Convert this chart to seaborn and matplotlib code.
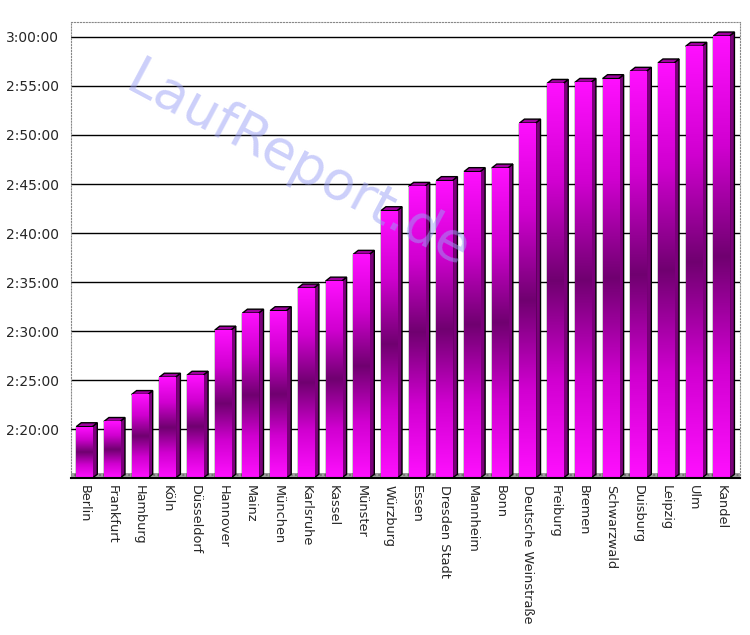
import numpy as np
import seaborn as sns
import matplotlib.pyplot as plt
from matplotlib.patches import Polygon
from matplotlib.colors import LinearSegmentedColormap
from matplotlib.ticker import FuncFormatter, MultipleLocator

# marathon times per city (h:mm:ss)
cities = ['Berlin', 'Frankfurt', 'Hamburg', 'Köln', 'Düsseldorf', 'Hannover',
          'Mainz', 'München', 'Karlsruhe', 'Kassel', 'Münster', 'Würzburg',
          'Essen', 'Dresden Stadt', 'Mannheim', 'Bonn', 'Deutsche Weinstraße',
          'Freiburg', 'Bremen', 'Schwarzwald', 'Duisburg', 'Leipzig', 'Ulm',
          'Kandel']
times = ['2:20:15', '2:20:47', '2:23:32', '2:25:18', '2:25:30', '2:30:06',
         '2:31:50', '2:32:05', '2:34:24', '2:35:06', '2:37:50', '2:42:17',
         '2:44:46', '2:45:21', '2:46:16', '2:46:38', '2:51:13', '2:55:16',
         '2:55:22', '2:55:45', '2:56:30', '2:57:21', '2:59:03', '3:00:06']


def to_sec(s):
    h, m, sec = s.split(':')
    return int(h) * 3600 + int(m) * 60 + int(sec)


secs = [to_sec(t) for t in times]
ymin, ymax = 8100, 10890
xlo, xhi = -0.47, 23.68

sns.set_style('white')
plt.rcParams['font.family'] = ['DejaVu Sans']

fig = plt.figure(figsize=(7.5, 6.35), dpi=100)
ax = fig.add_axes([0.095, 0.247, 0.892, 0.718])

ax.yaxis.set_major_locator(MultipleLocator(300))
ax.grid(axis='y', color='black', lw=1)
ax.set_axisbelow(True)

sns.barplot(x=cities, y=secs, color='#ff00ff', width=0.58, ax=ax,
            edgecolor='black', linewidth=1, zorder=2)

ax.set_ylim(ymin, ymax)
ax.set_xlim(xlo, xhi)

cmap = LinearSegmentedColormap.from_list(
    'mag', ['#ff10ff', '#d000d0', '#700070', '#d000d0', '#ff10ff'])
grad = np.linspace(0, 1, 256).reshape(-1, 1)
dx, dy = 0.18, 24

for p in list(ax.patches):
    x, w, h = p.get_x(), p.get_width(), p.get_height()
    im = ax.imshow(grad, extent=[x, x + w, ymin, h], aspect='auto',
                   cmap=cmap, origin='lower', zorder=2.5)
    im.set_clip_path(p)
    side = Polygon([(x + w, ymin), (x + w, h), (x + w + dx, h + dy),
                    (x + w + dx, ymin + dy)], closed=True,
                   facecolor='#7a007a', edgecolor='black', lw=1, zorder=2.2)
    top = Polygon([(x, h), (x + w, h), (x + w + dx, h + dy), (x + dx, h + dy)],
                  closed=True, facecolor='#a000a0', edgecolor='black', lw=1,
                  zorder=2.2)
    ax.add_patch(side)
    ax.add_patch(top)
    # outline of the front face above the gradient
    ax.add_patch(Polygon(p.get_verts(), closed=True, fill=False,
                         edgecolor='black', lw=1, zorder=3))

# floor
ax.fill_between([xlo, xhi], ymin, ymin + 30, color='#a0a0a0',
                hatch='....', edgecolor='#707070', lw=0, zorder=1.5)


def fmt(v, pos):
    if v <= ymin:
        return ''
    v = int(v)
    return '%d:%02d:%02d' % (v // 3600, (v % 3600) // 60, v % 60)


ax.yaxis.set_major_formatter(FuncFormatter(fmt))
ax.tick_params(axis='y', labelsize=10, length=6, color='#444444', pad=3)
ax.tick_params(axis='x', labelsize=9.3, length=0, pad=5)
plt.setp(ax.get_xticklabels(), rotation=270, ha='center', va='top')

for s in ['top', 'right', 'left']:
    ax.spines[s].set_color('#888888')
    ax.spines[s].set_linestyle(':')
ax.spines['bottom'].set_color('black')
ax.spines['bottom'].set_linewidth(1.5)

fig.text(0.397, 0.74, 'LaufReport.de', rotation=-28, fontsize=39,
         color='#9aa0f5', alpha=0.5, ha='center', va='center', zorder=10)

fig.savefig('out.png', dpi=100)
